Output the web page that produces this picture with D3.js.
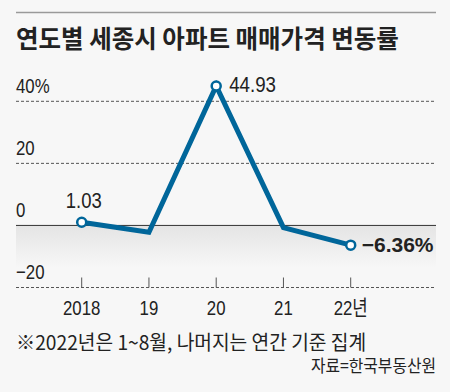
<!DOCTYPE html>
<html>
<head>
<meta charset="utf-8">
<script src="https://cdn.jsdelivr.net/npm/d3@7"></script>
<style>
	body { margin: 0; background: #f7f7f7; }
	svg { display: block; }
	.num { font-family: "Liberation Sans", "Noto Sans CJK KR", sans-serif; }
	.kr { font-family: "Noto Sans CJK KR", sans-serif; }
</style>
</head>
<body>
<script>

//data
var years = ["2018", "19", "20", "21", "22년"];
var rates = [1.03, -2.2, 44.93, -0.7, -6.36];
var yTicks = [40, 20, 0, -20];
var yTickLabels = ["40%", "20", "0", "\u221220"];
var markedYears = ["2018", "20", "22년"];

var WIDTH = 450;
var HEIGHT = 392;
var LEFT = 16;
var RIGHT = 436;
var LINE_COLOR = "#00669a";
var TEXT_COLOR = "#222";

var svg = d3.select("body").append("svg")
	.attr("width", WIDTH)
	.attr("height", HEIGHT);

svg.append("rect")
	.attr("width", WIDTH)
	.attr("height", HEIGHT)
	.attr("fill", "#f7f7f7");

//condensed text: place at x,y and squeeze horizontally
function addText(cls, x, y, size, sx, str) {
	return svg.append("text")
		.attr("class", cls)
		.attr("transform", "translate(" + x + "," + y + ") scale(" + sx + ",1)")
		.attr("font-size", size)
		.attr("fill", TEXT_COLOR)
		.text(str);
}

//title
svg.append("line")
	.attr("x1", LEFT).attr("x2", RIGHT)
	.attr("y1", 12.5).attr("y2", 12.5)
	.attr("stroke", "#9a9a9a")
	.attr("stroke-width", 1.5);

addText("kr", LEFT, 48, 25, 0.98, "연도별 세종시 아파트 매매가격 변동률")
	.attr("font-weight", "bold");

//scales
var x = d3.scalePoint()
	.domain(years)
	.range([81.7, 350.7]);

var y = d3.scaleLinear()
	.domain([-20, 40])
	.range([287.5, 101.3]);

//shaded area below zero
var defs = svg.append("defs");
var grad = defs.append("linearGradient")
	.attr("id", "shade")
	.attr("x1", 0).attr("x2", 0)
	.attr("y1", 0).attr("y2", 1);
grad.append("stop").attr("offset", "0%").attr("stop-color", "#e4e4e4");
grad.append("stop").attr("offset", "100%").attr("stop-color", "#f7f7f7");

svg.append("rect")
	.attr("x", LEFT)
	.attr("y", y(0))
	.attr("width", RIGHT - LEFT)
	.attr("height", 42)
	.attr("fill", "url(#shade)");

//grid
yTicks.forEach(function(t, i) {
	svg.append("line")
		.attr("x1", LEFT).attr("x2", RIGHT)
		.attr("y1", y(t)).attr("y2", y(t))
		.attr("stroke", t == 0 ? "#333" : "#555")
		.attr("stroke-width", 1)
		.attr("stroke-dasharray", t == 0 ? null : "3,2");

	addText("num", LEFT, y(t) - 8.5, 21, 0.8, yTickLabels[i]);
});

//x ticks
svg.selectAll(".xTick")
	.data(years)
	.enter()
	.append("line")
	.attr("class", "xTick")
	.attr("x1", function(d) { return x(d); })
	.attr("x2", function(d) { return x(d); })
	.attr("y1", y(-20) - 10)
	.attr("y2", y(-20))
	.attr("stroke", "#555")
	.attr("stroke-width", 1);

years.forEach(function(d) {
	addText("num", x(d), 315, 21, 0.8, d)
		.attr("text-anchor", "middle");
});

//line
var line = d3.line()
	.x(function(d, i) { return x(years[i]); })
	.y(function(d) { return y(d); });

svg.append("path")
	.datum(rates)
	.attr("d", line)
	.attr("fill", "none")
	.attr("stroke", LINE_COLOR)
	.attr("stroke-width", 5)
	.attr("stroke-linejoin", "miter");

svg.selectAll(".marker")
	.data(years.filter(function(d) { return markedYears.indexOf(d) >= 0; }))
	.enter()
	.append("circle")
	.attr("class", "marker")
	.attr("cx", function(d) { return x(d); })
	.attr("cy", function(d) { return y(rates[years.indexOf(d)]); })
	.attr("r", 4.5)
	.attr("fill", "#fff")
	.attr("stroke", LINE_COLOR)
	.attr("stroke-width", 2.5);

//value labels
addText("num", x("2018") + 2, 208, 22, 0.84, rates[0].toFixed(2))
	.attr("text-anchor", "middle");

addText("num", x("20") + 13, 92, 22, 0.85, rates[2].toFixed(2));

addText("num", x("22년") + 11, 252, 21, 1, "\u2212" + Math.abs(rates[4]).toFixed(2) + "%")
	.attr("font-weight", "bold");

//notes
addText("kr", LEFT, 350, 20, 0.96, "※2022년은 1~8월, 나머지는 연간 기준 집계");

addText("kr", RIGHT, 372, 17, 0.93, "자료=한국부동산원")
	.attr("text-anchor", "end");

</script>
</body>
</html>
